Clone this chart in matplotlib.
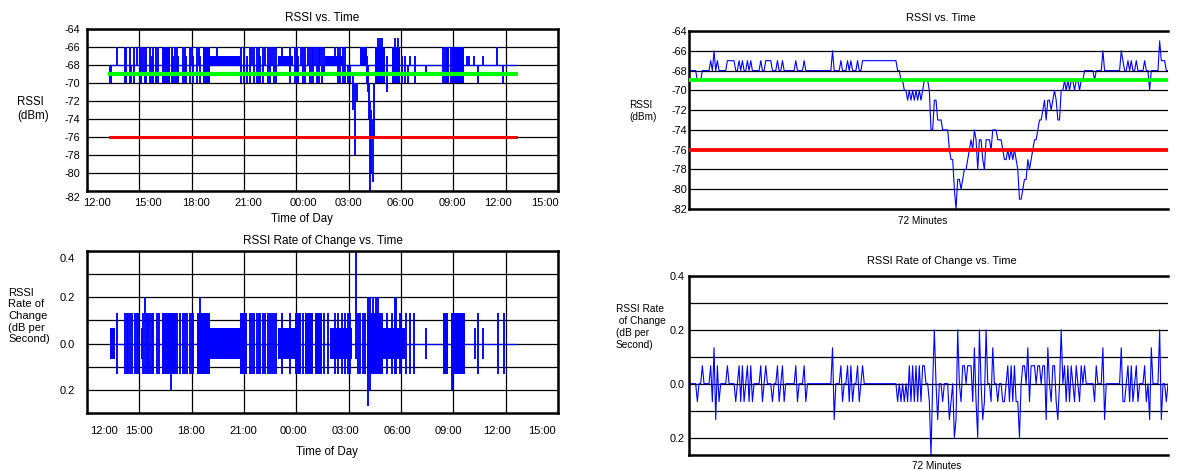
import matplotlib
matplotlib.use('Agg')
import matplotlib.pyplot as plt
import matplotlib.transforms as mtransforms
import numpy as np

plt.rcParams['font.family'] = ['Liberation Sans', 'DejaVu Sans']
plt.rcParams['axes.unicode_minus'] = False

# ---------------- data ----------------
good_level = -69   # green threshold, dBm
bad_level = -76    # red threshold, dBm

clock_labels = ['12:00', '15:00', '18:00', '21:00', '00:00',
                '03:00', '06:00', '09:00', '12:00', '15:00']

# 24 h log (hours after 12:00 on day one)
day_start, day_end = 1.32, 24.60
day_base = -68

# dense stretches of the RSSI trace: start, end, low, high
blk_t0 = [4.30, 6.65, 7.05, 10.95, 13.65, 15.65, 16.51, 17.49, 20.59, 20.93]
blk_t1 = [4.76, 7.05, 8.77, 11.81, 14.68, 16.06, 17.09, 17.95, 20.76, 21.62]
blk_lo = [-70, -70, -68, -68, -68, -68, -70, -70, -70, -70]
blk_hi = [-66, -66, -67, -67, -67, -66, -66, -66, -66, -66]

# single RSSI excursions: time, low, high
stk_t = [1.32, 1.40, 1.72, 2.18, 2.25, 2.47, 2.55, 2.69, 2.87, 3.04, 3.12, 3.21, 3.30, 3.38,
         3.61, 3.70, 3.78, 3.96, 4.07, 4.87, 4.95, 5.05, 5.15, 5.22, 5.50, 5.60, 5.68, 5.91,
         6.00, 6.08, 6.31, 6.40, 6.48, 7.45, 8.83, 9.00, 9.17, 9.35, 9.46, 9.58, 9.75, 9.85,
         9.92, 10.09, 10.21, 10.38, 10.49, 10.61, 10.72, 10.84, 11.18, 11.64, 11.93, 12.02,
         12.10, 12.27, 12.39, 12.50, 12.67, 12.79, 12.88, 12.96, 13.07, 13.19, 13.30, 13.36,
         13.47, 13.60, 14.22, 14.39, 14.51, 14.68, 14.79, 14.97, 15.08, 15.25, 15.37, 15.48,
         16.06, 16.12, 16.18, 16.23, 16.30, 16.40, 16.45, 16.69, 16.80, 16.92, 17.20, 17.66,
         17.83, 18.06, 18.23, 18.41, 18.52, 18.81, 19.44, 20.41, 20.50, 20.85, 21.79, 21.90,
         22.19, 22.42, 22.71, 23.51, 23.85]
stk_lo = [-70, -70, -68, -70, -70, -70, -70, -70, -68, -70, -70, -69, -70, -70,
          -70, -70, -70, -70, -70, -70, -70, -70, -70, -70, -70, -70, -70, -70,
          -68, -70, -70, -68, -70, -68, -70, -70, -70, -70, -68, -70, -70, -70,
          -70, -70, -68, -70, -70, -68, -70, -70, -68, -70, -70, -70,
          -70, -68, -70, -70, -68, -70, -70, -70, -68, -70, -70, -68,
          -70, -69, -68, -70, -70, -70, -70, -70, -70, -73, -78, -72,
          -70, -71, -74, -82, -80, -81, -76, -68, -68, -68, -71, -68,
          -68, -70, -70, -70, -68, -70, -69, -70, -70, -70, -68, -68,
          -68, -70, -68, -68, -70]
stk_hi = [-68, -68, -66, -66, -66, -66, -68, -66, -66, -66, -66, -66, -66, -66,
          -66, -67, -66, -66, -66, -66, -67, -66, -66, -67, -66, -66, -67, -66,
          -66, -67, -66, -66, -67, -66, -66, -66, -67, -66, -66, -66, -66, -66,
          -67, -66, -66, -66, -66, -66, -66, -66, -66, -66, -66, -66,
          -67, -66, -66, -66, -66, -66, -66, -66, -66, -66, -66, -66,
          -66, -66, -66, -66, -66, -66, -66, -68, -68, -69, -70, -70,
          -67, -68, -70, -72, -73, -74, -70, -65, -65, -65, -67, -65,
          -65, -67, -67, -68, -67, -67, -68, -66, -66, -66, -67, -67,
          -67, -68, -67, -66, -68]

# dense stretches of the rate trace (dB/s), symmetric about zero
rblk_t0 = [1.32, 4.30, 6.31, 7.05, 8.77, 10.95, 11.93, 12.50, 13.07, 13.93, 16.06, 16.97, 20.41, 20.85]
rblk_t1 = [1.60, 5.10, 7.05, 8.77, 9.17, 11.93, 12.27, 12.96, 13.47, 15.19, 16.97, 18.23, 20.70, 21.68]
rblk_hi = [0.067, 0.133, 0.133, 0.067, 0.133, 0.067, 0.133, 0.133, 0.133, 0.067, 0.133, 0.067, 0.133, 0.133]

# single rate excursions: time, low, high
rstk_t = [1.72, 2.18, 2.29, 2.35, 2.47, 2.58, 2.75, 2.87, 2.92, 3.15, 3.21, 3.33, 3.44, 3.50,
          3.61, 3.73, 3.78, 4.01, 4.15, 4.82, 5.16, 5.33, 5.50, 5.62, 5.73, 5.91, 6.02, 6.08,
          6.48, 9.35, 9.46, 9.58, 9.75, 9.85, 9.92, 10.09, 10.21, 10.38, 10.49, 10.61, 10.72,
          10.84, 11.18, 11.64, 12.39, 13.60, 13.82, 14.22, 14.39, 14.62, 14.79, 14.97, 15.08,
          15.42, 15.54, 15.65, 15.83, 15.94, 16.11, 16.23, 16.40, 16.57, 16.69, 17.20, 17.49,
          17.66, 17.72, 17.95, 18.29, 18.52, 18.75, 19.44, 20.93, 22.25, 22.42, 22.71, 23.57, 23.91]
rstk_lo = [-0.133] * 9 + [-0.067] + [-0.133] * 9 + [-0.2] + [-0.133] * 33 + \
          [-0.067] + [-0.133] * 4 + [-0.27, -0.2, -0.133, -0.133, -0.133] + [-0.133] * 8 + \
          [-0.067, -0.2, -0.067, -0.133, -0.067, -0.133, -0.133]
rstk_hi = [0.133] * 9 + [0.067, 0.133, 0.2] + [0.133] * 16 + [0.2] + [0.133] * 24 + \
          [0.4] + [0.133] * 4 + [0.2] * 5 + [0.133, 0.133, 0.2, 0.2] + [0.133] * 4 + \
          [0.067, 0.133, 0.067, 0.133, 0.067, 0.133, 0.133]

# 72 minute log, one RSSI sample every 15 s
sample_s = 15
rssi_72 = [
    -68, -68, -68, -68, -68, -69, -69, -69, -68, -68, -68, -68,
    -68, -67, -68, -66, -68, -67, -68, -68, -68, -68, -68, -67,
    -67, -67, -67, -67, -68, -68, -67, -68, -67, -68, -68, -67,
    -68, -67, -68, -68, -68, -68, -68, -67, -68, -68, -67, -67,
    -67, -67, -68, -68, -68, -67, -68, -68, -67, -68, -68, -68,
    -68, -68, -68, -68, -67, -68, -68, -68, -68, -67, -68, -68,
    -68, -68, -68, -68, -68, -68, -68, -68, -68, -68, -68, -68,
    -68, -68, -66, -68, -68, -68, -68, -67, -68, -68, -68, -67,
    -68, -67, -68, -68, -68, -67, -68, -68, -67, -67, -67, -67,
    -67, -67, -67, -67, -67, -67, -67, -67, -67, -67, -67, -67,
    -67, -67, -67, -67, -67, -68, -68, -69, -69, -70, -70, -71,
    -70, -71, -70, -71, -70, -71, -70, -71, -70, -69, -69, -69,
    -70, -74, -74, -71, -71, -73, -73, -73, -74, -74, -74, -74,
    -76, -77, -77, -80, -82, -79, -79, -80, -79, -78, -78, -77,
    -76, -75, -76, -74, -75, -78, -75, -75, -77, -78, -75, -75,
    -75, -76, -74, -74, -74, -75, -75, -75, -76, -77, -77, -76,
    -77, -76, -77, -76, -77, -78, -81, -81, -80, -79, -79, -77,
    -78, -77, -76, -75, -75, -74, -73, -73, -72, -71, -73, -71,
    -71, -72, -71, -70, -71, -73, -73, -70, -70, -69, -70, -69,
    -70, -69, -69, -70, -69, -69, -70, -69, -69, -68, -68, -68,
    -68, -68, -68, -69, -68, -68, -68, -68, -66, -68, -68, -68,
    -68, -68, -68, -68, -68, -68, -68, -66, -67, -68, -68, -67,
    -68, -67, -68, -68, -67, -68, -68, -68, -68, -67, -68, -68,
    -70, -68, -68, -68, -68, -68, -65, -67, -67, -67, -68, -68,
]

# ---------------- figure ----------------
W, H = 1177, 470
BLUE, GREEN, RED = '#0000ff', '#00ff00', '#ff0000'
fig = plt.figure(figsize=(W / 100, H / 100), dpi=100)


def box(l, t, r, b):
    return [l / W, 1 - b / H, (r - l) / W, (b - t) / H]


def shift(lbl, dx, dy):
    off = mtransforms.ScaledTranslation(dx / 72, dy / 72, fig.dpi_scale_trans)
    lbl.set_transform(lbl.get_transform() + off)


def style_day(ax, lbl_pos, pad):
    ax.set_xlim(0, 27)
    ax.set_xticks(np.arange(0, 28, 3))
    ax.set_xticklabels([])
    ax.set_xticks(lbl_pos, clock_labels, minor=True)
    ax.grid(True, which='major', color='black', lw=0.9)
    ax.tick_params(which='both', length=0)
    ax.tick_params(axis='x', which='minor', labelsize=8, pad=pad)
    for s in ax.spines.values():
        s.set_linewidth(1.8)
    ax.set_axisbelow(True)


# --- left top: RSSI over the day ---
ax1 = fig.add_axes(box(87, 29, 558, 191))
ax1.plot([day_start, day_end], [day_base, day_base], color=BLUE, lw=0.9, zorder=2)
ax1.bar(blk_t0, height=np.subtract(blk_hi, blk_lo), width=np.subtract(blk_t1, blk_t0),
        bottom=blk_lo, align='edge', color=BLUE, lw=0, zorder=2)
ax1.vlines(stk_t, stk_lo, stk_hi, color=BLUE, lw=1.35, zorder=2)
ax1.plot([day_start, day_end], [good_level, good_level], color=GREEN, lw=3.0, zorder=3)
ax1.plot([day_start, day_end], [bad_level, bad_level], color=RED, lw=2.2, zorder=3)
ax1.set_ylim(-82, -64)
ax1.set_yticks(np.arange(-82, -63, 2))
style_day(ax1, [0.57, 3.50, 6.25, 9.23, 12.38, 14.97, 17.95, 20.93, 23.57, 26.26], 5)
ax1.tick_params(axis='y', labelsize=7.8, pad=5)
shift(ax1.get_yticklabels()[0], 0, -4)
ax1.set_title('RSSI vs. Time', fontsize=8.5, pad=6)
fig.text(17 / W, 1 - 109 / H, 'RSSI\n(dBm)', ha='left', va='center', fontsize=8.3)
fig.text(302 / W, 1 - 219 / H, 'Time of Day', ha='center', va='center', fontsize=8.3)

# --- left bottom: rate of change over the day ---
ax2 = fig.add_axes(box(87, 251, 558, 413))
ax2.plot([day_start, day_end], [0, 0], color=BLUE, lw=0.9, zorder=2)
ax2.bar(rblk_t0, height=np.multiply(rblk_hi, 2), width=np.subtract(rblk_t1, rblk_t0),
        bottom=np.negative(rblk_hi), align='edge', color=BLUE, lw=0, zorder=2)
ax2.vlines(rstk_t, rstk_lo, rstk_hi, color=BLUE, lw=1.35, zorder=2)
ax2.set_ylim(-0.3, 0.4)
ax2.set_yticks(np.round(np.arange(-0.2, 0.41, 0.1), 1),
               ['0.2', '', '0.0', '', '0.2', '', '0.4'])
style_day(ax2, [0.97, 2.98, 5.96, 8.94, 11.81, 14.79, 17.77, 20.69, 23.50, 26.08], 9)
ax2.tick_params(axis='y', labelsize=8, pad=9)
shift(ax2.get_yticklabels()[-1], 0, -5)
ax2.set_title('RSSI Rate of Change vs. Time', fontsize=8.5, pad=5)
fig.text(8 / W, 1 - 316 / H, 'RSSI\nRate of\nChange\n(dB per\nSecond)',
         ha='left', va='center', fontsize=8, linespacing=1.2)
fig.text(327 / W, 1 - 452 / H, 'Time of Day', ha='center', va='center', fontsize=8.3)

# --- right: 72 minute detail ---
minutes = np.arange(len(rssi_72)) * sample_s / 60
rate_72 = np.diff(rssi_72, prepend=rssi_72[0]) / sample_s


def style_detail(ax):
    ax.set_xlim(minutes[0], minutes[-1])
    ax.set_xticks([])
    ax.grid(True, axis='y', color='black', lw=0.9)
    ax.tick_params(length=0)
    ax.spines['right'].set_visible(False)
    for s in ('left', 'top', 'bottom'):
        ax.spines[s].set_linewidth(1.8)
    ax.set_axisbelow(True)


ax3 = fig.add_axes(box(689, 31, 1168, 209))
ax3.plot(minutes, rssi_72, color=BLUE, lw=0.8, zorder=2)
ax3.axhline(good_level, color=GREEN, lw=2.7, zorder=3)
ax3.axhline(bad_level, color=RED, lw=2.7, zorder=3)
ax3.set_ylim(-82, -64)
ax3.set_yticks(np.arange(-82, -63, 2))
style_detail(ax3)
ax3.tick_params(axis='y', labelsize=7.8, pad=1.5)
fig.text(629 / W, 1 - 111 / H, 'RSSI\n(dBm)', ha='left', va='center', fontsize=7.2)
fig.text(941 / W, 1 - 18 / H, 'RSSI vs. Time', ha='center', va='center', fontsize=7.9)
fig.text(923 / W, 1 - 221 / H, '72 Minutes', ha='center', va='center', fontsize=7.2)

ax4 = fig.add_axes(box(689, 276, 1168, 455))
ax4.plot(minutes, rate_72, color=BLUE, lw=0.8, zorder=2)
ax4.set_ylim(-0.265, 0.4)
ax4.set_yticks(np.round(np.arange(-0.2, 0.41, 0.1), 1),
               ['0.2', '', '0.0', '', '0.2', '', '0.4'])
style_detail(ax4)
ax4.tick_params(axis='y', labelsize=7.8, pad=3)
fig.text(616 / W, 1 - 327 / H, 'RSSI Rate\n of Change\n(dB per\nSecond)',
         ha='left', va='center', fontsize=7.3, linespacing=1.25)
fig.text(942 / W, 1 - 261 / H, 'RSSI Rate of Change vs. Time', ha='center', va='center', fontsize=7.9)
fig.text(937 / W, 1 - 466 / H, '72 Minutes', ha='center', va='center', fontsize=7.2)

fig.savefig('out.png', dpi=100)
